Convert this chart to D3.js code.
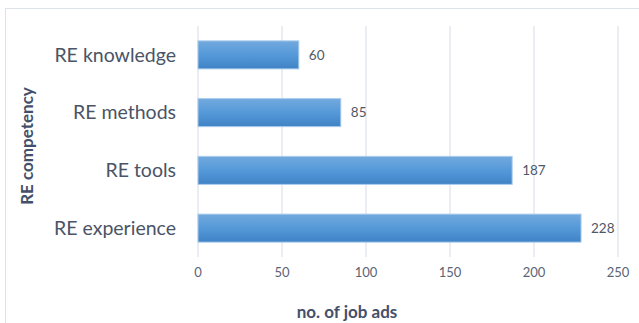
<!DOCTYPE html>
<html>
<head>
<meta charset="utf-8">
<script src="https://cdn.jsdelivr.net/npm/d3@7"></script>
<style>
  body { margin: 0; background: #fff; }
  text { font-family: Lato, "Noto Sans", sans-serif; }
</style>
</head>
<body>
<div id="container"></div>
<script>
var categories = ["RE knowledge", "RE methods", "RE tools", "RE experience"];
var values = [60, 85, 187, 228];
var xTicks = [0, 50, 100, 150, 200, 250];

var width = 639, height = 323;
var margin = {left: 198, right: 21, top: 26, bottom: 66};

var svg = d3.select('#container').append('svg').attr('width', width).attr('height', height);

// chart frame
svg.append('rect')
    .attr('x', 5.5).attr('y', 8.5)
    .attr('width', 640).attr('height', 330)
    .attr('fill', 'none').attr('stroke', '#dde1e8').attr('stroke-width', 1);

var xScale = d3.scaleLinear().domain([0, 250]).range([margin.left, width - margin.right]);
var yScale = d3.scaleBand().domain(categories).range([margin.top, height - margin.bottom]).paddingInner(0.515).paddingOuter(0.2575);

var grad = svg.append('defs').append('linearGradient')
    .attr('id', 'barGrad').attr('x1', 0).attr('y1', 0).attr('x2', 0).attr('y2', 1);
grad.append('stop').attr('offset', '0%').attr('stop-color', '#72a9dd');
grad.append('stop').attr('offset', '50%').attr('stop-color', '#5599d9');
grad.append('stop').attr('offset', '100%').attr('stop-color', '#3f83c6');

// gridlines
svg.append('g').selectAll('line')
    .data(xTicks)
    .enter().append('line')
    .attr('x1', function(d){ return xScale(d); })
    .attr('x2', function(d){ return xScale(d); })
    .attr('y1', margin.top)
    .attr('y2', height - margin.bottom)
    .attr('stroke', '#dfe3ea')
    .attr('stroke-width', 1.3);

// tick labels
svg.append('g').selectAll('text')
    .data(xTicks)
    .enter().append('text')
    .attr('x', function(d){ return xScale(d); })
    .attr('y', 277)
    .attr('text-anchor', 'middle')
    .attr('font-size', '13px')
    .attr('fill', '#5b6475')
    .text(function(d){ return d; });

// bars
svg.append('g').selectAll('rect')
    .data(values)
    .enter().append('rect')
    .attr('x', xScale(0))
    .attr('y', function(d, i){ return yScale(categories[i]); })
    .attr('width', function(d){ return xScale(d) - xScale(0); })
    .attr('height', yScale.bandwidth())
    .attr('fill', 'url(#barGrad)')
    .attr('stroke', '#a9cbec')
    .attr('stroke-width', 1);

// value labels
svg.append('g').selectAll('text')
    .data(values)
    .enter().append('text')
    .attr('x', function(d){ return xScale(d) + 10; })
    .attr('y', function(d, i){ return yScale(categories[i]) + yScale.bandwidth() / 2; })
    .attr('dy', '0.35em')
    .attr('font-size', '13.5px')
    .attr('fill', '#4f5868')
    .text(function(d){ return d; });

// category labels
svg.append('g').selectAll('text')
    .data(categories)
    .enter().append('text')
    .attr('x', 176)
    .attr('y', function(d){ return yScale(d) + yScale.bandwidth() / 2; })
    .attr('dy', '0.35em')
    .attr('text-anchor', 'end')
    .attr('font-size', '19.5px')
    .attr('fill', '#4a5466')
    .text(function(d){ return d; });

// axis titles
svg.append('text')
    .attr('transform', 'translate(33,146) rotate(-90)')
    .attr('text-anchor', 'middle')
    .attr('font-size', '17px')
    .attr('font-weight', 'bold')
    .attr('fill', '#44506a')
    .text('RE competency');

svg.append('text')
    .attr('x', 347)
    .attr('y', 318)
    .attr('text-anchor', 'middle')
    .attr('font-size', '17px')
    .attr('font-weight', 'bold')
    .attr('fill', '#44506a')
    .text('no. of job ads');
</script>
</body>
</html>
